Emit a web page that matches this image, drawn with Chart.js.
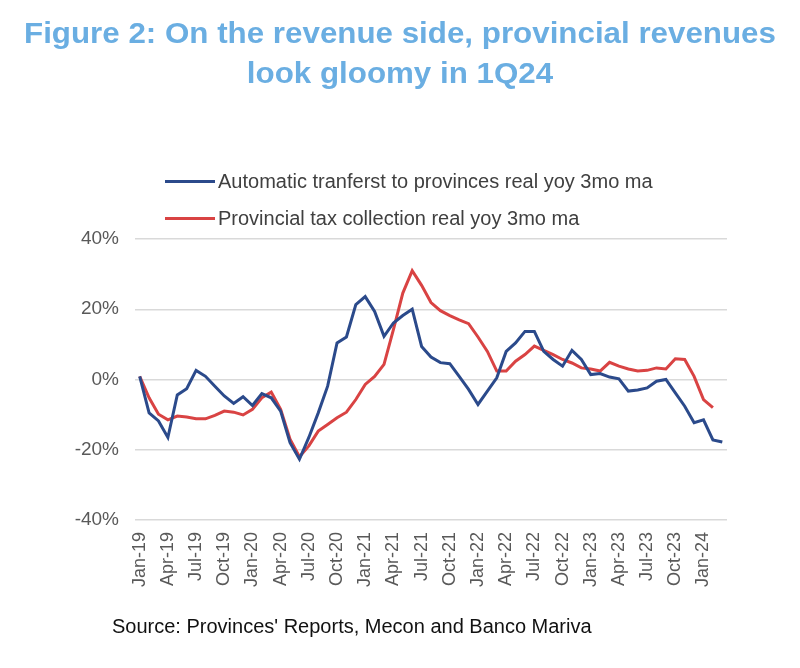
<!DOCTYPE html>
<html>
<head>
<meta charset="utf-8">
<script src="https://cdn.jsdelivr.net/npm/chart.js@4.4.1/dist/chart.umd.min.js"></script>
<style>
  body { margin: 0; background: #fff; }
  #wrap { position: relative; width: 800px; height: 668px; overflow: hidden; }
  #title {
    position: absolute; left: 0; top: 13px; width: 800px; text-align: center; white-space: nowrap;
    font-family: "Liberation Sans", Arial, sans-serif;
    font-weight: bold; font-size: 29px; line-height: 40px; color: #6aaee2;
    transform: scaleX(1.08); transform-origin: 400px 0;
  }
  .leg {
    position: absolute; left: 165px; font-family: "Liberation Sans", Arial, sans-serif;
    font-size: 20px; line-height: 23px; color: #404040; white-space: nowrap;
  }
  .leg span { display: inline-block; width: 50px; height: 3px; vertical-align: middle; margin-right: 3px; position: relative; top: -1px; }
  #source {
    position: absolute; left: 112px; top: 615px; font-family: "Liberation Sans", Arial, sans-serif;
    font-size: 20px; line-height: 23px; color: #111;
  }
  canvas { position: absolute; left: 0; top: 0; }
</style>
</head>
<body>
<div id="wrap">
  <canvas id="chart" width="800" height="668"></canvas>
  <div id="title">Figure 2: On the revenue side, provincial revenues<br>look gloomy in 1Q24</div>
  <div class="leg" style="top:170px"><span style="background:#2b4a8b"></span>Automatic tranferst to provinces real yoy 3mo ma</div>
  <div class="leg" style="top:207px"><span style="background:#d94343"></span>Provincial tax collection real yoy 3mo ma</div>
  <div id="source">Source: Provinces' Reports, Mecon and Banco Mariva</div>
</div>
<script>
// Data
const months = [
  'Jan-19', 'Feb-19', 'Mar-19', 'Apr-19', 'May-19', 'Jun-19', 'Jul-19', 'Aug-19', 'Sep-19', 'Oct-19', 'Nov-19', 'Dec-19',
  'Jan-20', 'Feb-20', 'Mar-20', 'Apr-20', 'May-20', 'Jun-20', 'Jul-20', 'Aug-20', 'Sep-20', 'Oct-20', 'Nov-20', 'Dec-20',
  'Jan-21', 'Feb-21', 'Mar-21', 'Apr-21', 'May-21', 'Jun-21', 'Jul-21', 'Aug-21', 'Sep-21', 'Oct-21', 'Nov-21', 'Dec-21',
  'Jan-22', 'Feb-22', 'Mar-22', 'Apr-22', 'May-22', 'Jun-22', 'Jul-22', 'Aug-22', 'Sep-22', 'Oct-22', 'Nov-22', 'Dec-22',
  'Jan-23', 'Feb-23', 'Mar-23', 'Apr-23', 'May-23', 'Jun-23', 'Jul-23', 'Aug-23', 'Sep-23', 'Oct-23', 'Nov-23', 'Dec-23',
  'Jan-24', 'Feb-24', 'Mar-24'
];

const transfers = [
  0.9, -9.5, -11.8, -16.5, -4.4, -2.6, 2.6, 0.9, -1.9, -4.7, -6.8, -4.9,
  -7.4, -4.0, -5.2, -9.0, -18.0, -22.7, -16.5, -9.5, -1.9, 10.4, 12.1, 21.3,
  23.6, 19.4, 12.3, 16.1, 18.2, 20.0, 9.4, 6.4, 4.8, 4.5, 0.9, -2.8,
  -7.1, -3.3, 0.5, 8.0, 10.4, 13.7, 13.7, 8.0, 5.7, 3.8, 8.3, 5.7,
  1.4, 1.7, 0.7, 0.2, -3.3, -3.0, -2.4, -0.5, 0.0, -3.8, -7.6, -12.3,
  -11.5, -17.2, -17.8
];

const taxCollection = [
  0.9, -5.2, -9.9, -11.5, -10.4, -10.7, -11.2, -11.2, -10.2, -9.0, -9.3, -10.1,
  -8.5, -5.2, -3.6, -8.5, -17.0, -22.0, -18.9, -14.7, -12.8, -10.9, -9.3, -5.7,
  -1.4, 0.9, 4.3, 14.2, 24.6, 31.0, 26.8, 21.9, 19.6, 18.2, 17.0, 15.9,
  12.1, 8.0, 2.4, 2.4, 5.2, 7.1, 9.5, 8.3, 7.1, 5.7, 4.7, 3.3,
  3.0, 2.4, 4.9, 3.8, 3.0, 2.4, 2.6, 3.3, 3.0, 5.9, 5.7, 0.9,
  -5.7, -8.0
];

const yTicks = [-40, -20, 0, 20, 40];

const ctx = document.getElementById('chart').getContext('2d');

new Chart(ctx, {
  type: 'line',
  data: {
    labels: months,
    datasets: [{
      label: 'Automatic tranferst to provinces real yoy 3mo ma',
      data: transfers,
      borderColor: '#2b4a8b',
      borderWidth: 3,
      pointRadius: 0,
      tension: 0
    }, {
      label: 'Provincial tax collection real yoy 3mo ma',
      data: taxCollection,
      borderColor: '#d94343',
      borderWidth: 3,
      pointRadius: 0,
      tension: 0
    }]
  },
  options: {
    responsive: false,
    animation: false,
    layout: { padding: { left: 0, right: 73, top: 239, bottom: 0 } },
    plugins: {
      legend: { display: false },
      tooltip: { enabled: false }
    },
    scales: {
      x: {
        offset: true,
        grid: { display: false },
        border: { display: false },
        afterFit: s => { s.height = 148; },
        ticks: {
          autoSkip: false,
          maxRotation: 90,
          minRotation: 90,
          padding: 4,
          color: '#595959',
          font: { family: 'Liberation Sans', size: 18 },
          callback: (v, i) => (i % 3 === 0 ? months[i] : '')
        }
      },
      y: {
        min: -40,
        max: 40,
        afterFit: s => { s.width = 135; },
        afterBuildTicks: s => { s.ticks = yTicks.map(v => ({ value: v })); },
        grid: { color: '#d9d9d9', lineWidth: 1.5, drawTicks: false },
        border: { display: false },
        ticks: {
          padding: 16,
          color: '#595959',
          font: { family: 'Liberation Sans', size: 19 },
          callback: v => v + '%'
        }
      }
    }
  }
});
</script>
</body>
</html>
